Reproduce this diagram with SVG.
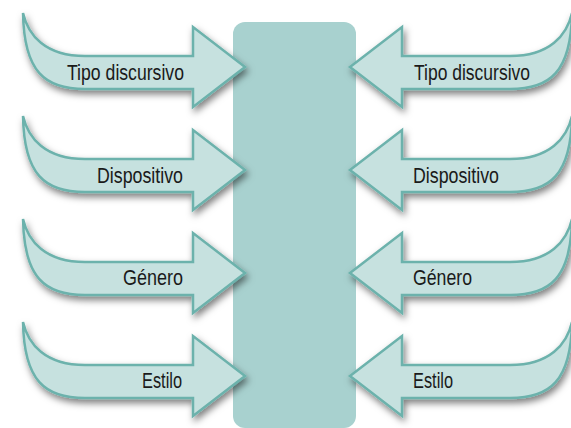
<svg xmlns="http://www.w3.org/2000/svg" xmlns:xlink="http://www.w3.org/1999/xlink" width="571" height="428" viewBox="0 0 571 428">
  <style>
    .arrow { fill: #c6e1df; stroke: #6cb2ac; stroke-width: 2.5; stroke-linejoin: miter; }
    .lbl { font-family: "Liberation Sans", Arial, sans-serif; font-size: 22px; fill: #1a1a1a; }
    .r { text-anchor: end; }
    .core { fill: #a8d1cf; }
  </style>
  <defs>
    <filter id="sh" x="-20%" y="-20%" width="140%" height="150%">
      <feDropShadow dx="2" dy="4" stdDeviation="3.5" flood-color="#000" flood-opacity="0.5"/>
    </filter>
    <path id="arrowL" d="M 23 13 C 28 35, 45 56, 85 56 L 193 56 L 193 27 L 245 67 L 193 107 L 193 89 L 85 89 C 45 89, 24 72, 23 13 Z"/>
  </defs>
  <rect width="571" height="428" fill="#ffffff"/>
  <g id="center">
    <rect class="core" x="233" y="22" width="123" height="406" rx="12" ry="12"/>
  </g>
  <g id="connectors"/>
  <g id="left-tipo" filter="url(#sh)">
    <use xlink:href="#arrowL" class="arrow"/>
  </g>
  <g id="left-dispositivo" filter="url(#sh)">
    <use xlink:href="#arrowL" class="arrow" transform="translate(0,103)"/>
  </g>
  <g id="left-genero" filter="url(#sh)">
    <use xlink:href="#arrowL" class="arrow" transform="translate(0,206)"/>
  </g>
  <g id="left-estilo" filter="url(#sh)">
    <use xlink:href="#arrowL" class="arrow" transform="translate(0,309)"/>
  </g>
  <g id="right-tipo" filter="url(#sh)">
    <use xlink:href="#arrowL" class="arrow" transform="translate(595,0) scale(-1,1)"/>
  </g>
  <g id="right-dispositivo" filter="url(#sh)">
    <use xlink:href="#arrowL" class="arrow" transform="translate(595,103) scale(-1,1)"/>
  </g>
  <g id="right-genero" filter="url(#sh)">
    <use xlink:href="#arrowL" class="arrow" transform="translate(595,206) scale(-1,1)"/>
  </g>
  <g id="right-estilo" filter="url(#sh)">
    <use xlink:href="#arrowL" class="arrow" transform="translate(595,309) scale(-1,1)"/>
  </g>
  <g id="labels">
    <text class="lbl r" x="184" y="80" textLength="117" lengthAdjust="spacingAndGlyphs">Tipo discursivo</text>
    <text class="lbl r" x="183" y="183" textLength="86" lengthAdjust="spacingAndGlyphs">Dispositivo</text>
    <text class="lbl r" x="183" y="285" textLength="60" lengthAdjust="spacingAndGlyphs">Género</text>
    <text class="lbl r" x="182" y="388" textLength="40" lengthAdjust="spacingAndGlyphs">Estilo</text>
    <text class="lbl" x="414" y="80" textLength="116" lengthAdjust="spacingAndGlyphs">Tipo discursivo</text>
    <text class="lbl" x="413" y="183" textLength="86" lengthAdjust="spacingAndGlyphs">Dispositivo</text>
    <text class="lbl" x="413" y="285" textLength="59" lengthAdjust="spacingAndGlyphs">Género</text>
    <text class="lbl" x="413" y="388" textLength="40" lengthAdjust="spacingAndGlyphs">Estilo</text>
  </g>
</svg>
